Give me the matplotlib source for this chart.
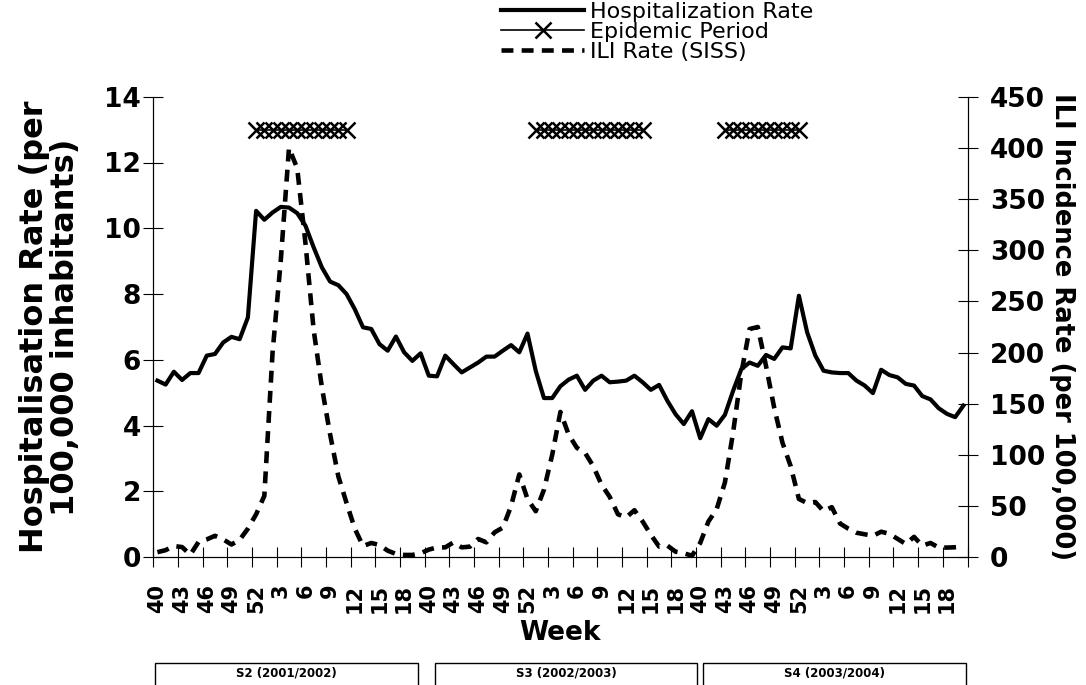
import numpy as np
import matplotlib
matplotlib.use("Agg")
import matplotlib.pyplot as plt
from matplotlib.patches import Rectangle

plt.rcParams['font.family'] = ['DejaVu Sans']

# Weekly hospitalization rate (per 100,000 inhabitants), weeks 40..20 of three seasons
hosp = [5.37, 5.25, 5.64, 5.39, 5.6, 5.6, 6.13, 6.18, 6.53, 6.7, 6.63, 7.29, 10.53, 10.26, 10.48, 10.65, 10.63,
        10.46, 10.08, 9.42, 8.81, 8.38, 8.27, 8.0, 7.54, 6.99, 6.94, 6.48, 6.28, 6.71, 6.23, 5.97, 6.2,
        5.52, 5.5, 6.13, 5.87, 5.62, 5.77, 5.92, 6.1, 6.1, 6.28, 6.45, 6.23, 6.8, 5.67, 4.84, 4.84,
        5.2, 5.4, 5.52, 5.09, 5.37, 5.52, 5.32, 5.34, 5.37, 5.52, 5.32, 5.09, 5.24, 4.76, 4.35, 4.05, 4.44,
        3.62, 4.2, 4.0, 4.33, 5.06, 5.72, 5.92, 5.82, 6.15, 6.03, 6.38, 6.35, 7.95, 6.84, 6.13, 5.67, 5.62,
        5.6, 5.6, 5.37, 5.22, 4.99, 5.7, 5.54, 5.47, 5.27, 5.22, 4.9, 4.8, 4.53, 4.36, 4.26, 4.61]

# ILI incidence rate (SISS, per 100,000)
ili = [5, 7, 11, 10, 2.5, 15, 17.5, 21, 17.5, 12.5, 17, 28, 42, 60,
       200, 290, 400,
       380, 307, 222, 166, 120, 79, 53, 28, 11, 14, 12, 6.5, 3.3, 2.3, 2.3, 3.9,
       7.5, 9.7, 9.7, 14.6, 9.7, 10.4, 17.9, 14.6, 24.4, 29, 50, 81, 57, 45, 66, 100,
       142, 120, 107, 102, 89, 71, 59, 42, 39, 46, 35, 22, 10.5, 11.5, 5.5, 4, 1.5,
       14, 35, 47, 73, 122, 180, 223, 225, 187, 146, 112, 89, 57, 53, 54, 45, 49,
       33, 28, 24, 22.5, 21, 25, 23, 18, 13, 20, 11.4, 14, 9.5, 9.5, 9.8, 10.4]

# Epidemic periods (first and last week index) and the level they are drawn at
epi_periods = [(12, 23), (46, 59), (69, 78)]
epi_level = 13

tick_labels = ['40', '43', '46', '49', '52', '3', '6', '9', '12', '15', '18'] * 3
seasons = ['S2 (2001/2002)', 'S3 (2002/2003)', 'S4 (2003/2004)']

W, H = 1086, 685
fig = plt.figure(figsize=(W / 100, H / 100), dpi=100)
ax = fig.add_axes([153.3 / W, 1 - 557.3 / H, (967.5 - 153.3) / W, (557.3 - 96.7) / H])
ax2 = ax.twinx()

n = len(hosp)
x = np.arange(n) + 0.5

l1, = ax.plot(x, hosp, color='black', lw=3.0, solid_joinstyle='round', label='Hospitalization Rate')
epi = np.full(n, np.nan)
for s, e in epi_periods:
    epi[s:e + 1] = epi_level
l2, = ax.plot(x, epi, color='black', lw=1.2, marker='x', ms=11, mew=1.8, label='Epidemic Period')
l3, = ax2.plot(x, ili, color='black', lw=3.3, dashes=(2.6, 1.8), label='ILI Rate (SISS)')

ax.set_xlim(0, n)
ax.set_ylim(0, 14)
ax2.set_ylim(0, 450)
ax.set_yticks(np.arange(0, 15, 2))
ax2.set_yticks(np.arange(0, 451, 50))

# x ticks at category boundaries, labels at category centres
ax.set_xticks(np.arange(0, n + 1, 3))
ax.set_xticklabels([])
ax.set_xticks(np.arange(0, n, 3) + 0.5, tick_labels, minor=True)
ax.tick_params(axis='x', which='major', direction='inout', length=14, width=0.8)
ax.tick_params(axis='x', which='minor', length=0, pad=19, labelsize=15, labelrotation=90)
for t in ax.get_xticklabels(minor=True):
    t.set_fontweight('bold')

ax.tick_params(axis='y', direction='inout', length=14, width=0.8, labelsize=19, pad=2)
ax2.tick_params(axis='y', direction='inout', length=14, width=0.8, labelsize=19, pad=9)
for t in ax.get_yticklabels() + ax2.get_yticklabels():
    t.set_fontweight('bold')

for a in (ax, ax2):
    a.spines['top'].set_visible(False)
    for sp in ('left', 'right', 'bottom'):
        a.spines[sp].set_linewidth(0.8)

ax.set_ylabel('Hospitalisation Rate (per\n100,000 inhabitants)', fontsize=23, fontweight='bold',
              ha='center', va='center', rotation_mode='default', linespacing=1.0)
ax.yaxis.set_label_coords((50 - 153.3) / 814.2, 0.5)
ax2.set_ylabel('ILI Incidence Rate (per 100,000)', fontsize=18.5, fontweight='bold', rotation=-90,
               ha='center', va='center', rotation_mode='default')
ax2.yaxis.set_label_coords((1062 - 153.3) / 814.2, 0.5)
ax.set_xlabel('Week', fontsize=19, fontweight='bold', ha='center', va='center')
ax.xaxis.set_label_coords(0.5, (557.3 - 633) / 460.6)

# legend above the plot
fig.legend(handles=[l1, l2, l3], loc='upper left', bbox_to_anchor=(501 / W, 1 - 2 / H),
           frameon=False, fontsize=16, handlelength=3.75, handletextpad=0.25,
           labelspacing=0.0, borderaxespad=0, borderpad=0)

# season boxes at the bottom
box_px = [(155, 418.3), (435, 697.3), (703.3, 966)]
for (x0, x1), name in zip(box_px, seasons):
    fig.patches.append(Rectangle((x0 / W, -0.05), (x1 - x0) / W, 0.05 + (H - 663.3) / H,
                                 transform=fig.transFigure, fill=False, lw=1, ec='black'))
    fig.text((x0 + x1) / 2 / W, (H - 673) / H, name, ha='center', va='center',
             fontsize=8.5, fontweight='bold')

fig.savefig('out.png', dpi=100)
